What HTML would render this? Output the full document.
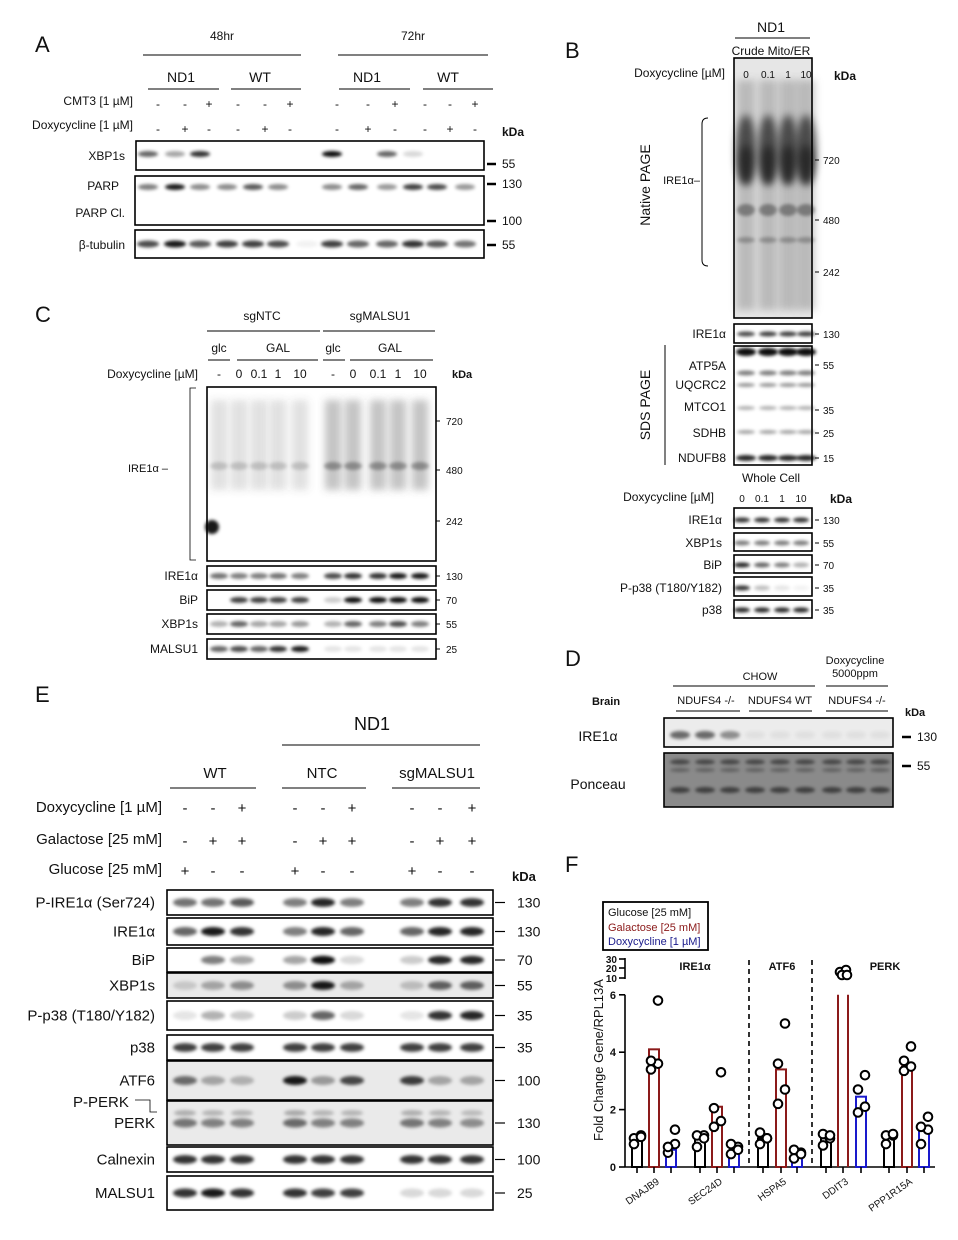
<!DOCTYPE html>
<html><head><meta charset="utf-8">
<style>
html,body{margin:0;padding:0;background:#fff}
svg{display:block;font-family:"Liberation Sans",Arial,sans-serif}
text{fill:#111}
</style></head>
<body>
<svg id="s" width="958" height="1240" viewBox="0 0 958 1240" xmlns="http://www.w3.org/2000/svg">
<defs>
<filter id="b" x="-50%" y="-100%" width="200%" height="300%"><feGaussianBlur stdDeviation="1.6"/></filter>
<filter id="b2" x="-50%" y="-50%" width="200%" height="200%"><feGaussianBlur stdDeviation="4"/></filter>
</defs>
<g id="bands"></g>
<g id="boxes" fill="none" stroke="#000" stroke-width="1.6"></g>
<g id="txt" font-size="12"></g>
</svg>
<script>
const NS="http://www.w3.org/2000/svg";
const S=document.getElementById('s'),B=document.getElementById('bands'),X=document.getElementById('boxes'),T=document.getElementById('txt');
function el(p,tag,a){const e=document.createElementNS(NS,tag);for(const k in a)e.setAttribute(k,a[k]);p.appendChild(e);return e;}
function t(x,y,s,o={}){const e=el(T,'text',Object.assign({x:x,y:y},o));e.textContent=s;return e;}
function r(x,y,w,h){el(X,'rect',{x:x,y:y,width:w,height:h});}
function ln(x1,y1,x2,y2,w=1,c='#000',d){const a={x1,y1,x2,y2,stroke:c,'stroke-width':w};if(d)a['stroke-dasharray']=d;el(T,'line',a);}
function band(x,y,w,h,o,f){if(o<=0)return;el(B,'ellipse',{cx:x,cy:y,rx:w/2,ry:h/2,fill:'#000','fill-opacity':o,filter:f||'url(#b)'});}
function bg(x,y,w,h,c){el(B,'rect',{x,y,width:w,height:h,fill:c});}
function row(lanes,y,w,h,ints){lanes.forEach((l,i)=>band(l,y,w,h,ints[i]));}
function mk(x,y,s,tick=true){if(tick)ln(x,y,x+9,y,2.5);t(x+15,y+4,s);}

// ===== Panel A =====
t(35,52,'A',{'font-size':22});
t(222,40,'48hr',{'text-anchor':'middle'});ln(143,55,301,55);
t(413,40,'72hr',{'text-anchor':'middle'});ln(338,55,488,55);
[['ND1',181,148,219],['WT',260,231,301],['ND1',367,339,410],['WT',448,423,493]].forEach(a=>{t(a[1],82,a[0],{'text-anchor':'middle','font-size':14});ln(a[2],89,a[3],89);});
t(133,105,'CMT3  [1 µM]',{'text-anchor':'end'});t(133,129,'Doxycycline  [1 µM]',{'text-anchor':'end'});
const LA=[158,185,209,238,265,290,337,368,395,425,450,475];
const cm=['-','-','+','-','-','+','-','-','+','-','-','+'],dx=['-','+','-','-','+','-','-','+','-','-','+','-'];
LA.forEach((x,i)=>{t(x,108,cm[i],{'text-anchor':'middle'});t(x,133,dx[i],{'text-anchor':'middle'});});
t(502,136,'kDa',{'font-weight':'bold'});
r(136,141,348,29);r(135,176,349,49);r(135,230,349,28);
const LA2=[148,175,200,227,253,278,307,332,358,387,413,437,465];
row(LA2,154,20,6,[.6,.35,.8,0,0,0,0,.95,0,.6,.15,0,0]);
row(LA2,187,20,6,[.5,.9,.45,.45,.65,.45,0,.45,.6,.4,.75,.7,.4]);
row(LA2,244,22,7,[.7,.9,.65,.75,.75,.7,.05,.75,.6,.6,.8,.65,.55]);
t(125,160,'XBP1s',{'text-anchor':'end'});t(119,190,'PARP',{'text-anchor':'end'});t(125,217,'PARP Cl.',{'text-anchor':'end'});t(125,249,'β-tubulin',{'text-anchor':'end'});
mk(487,164,'55');mk(487,184,'130');mk(487,221,'100');mk(487,245,'55');

// ===== Panel B =====
t(565,58,'B',{'font-size':22});
t(771,32,'ND1',{'text-anchor':'middle','font-size':14});ln(735,38,810,38);
t(771,55,'Crude Mito/ER',{'text-anchor':'middle'});
t(725,77,'Doxycycline [µM]',{'text-anchor':'end'});
const LB=[746,768,788,806];['0','0.1','1','10'].forEach((s,i)=>t(LB[i],78,s,{'text-anchor':'middle','font-size':10}));
t(834,80,'kDa',{'font-weight':'bold'});
bg(734,58,78,260,'#e6e6e6');
LB.forEach(x=>{el(B,'rect',{x:x-9,y:80,width:18,height:230,fill:'#666','fill-opacity':.35,filter:'url(#b2)'});band(x,150,20,70,.6,'url(#b2)');band(x,165,16,40,.45,'url(#b2)');band(x,210,18,12,.35);band(x,240,18,6,.25);});
r(734,58,78,260);
t(650,185,'Native PAGE',{'text-anchor':'middle','font-size':14,transform:'rotate(-90 650 185)'});
el(T,'path',{d:'M708 118 Q702 118 702 124 L702 260 Q702 266 708 266',fill:'none',stroke:'#000'});
t(700,184,'IRE1α–',{'text-anchor':'end','font-size':11});
[['720',160],['480',220],['242',272],['130',334],['55',365],['35',410],['25',433],['15',458]].forEach(a=>{ln(815,a[1],819,a[1]);t(823,a[1]+4,a[0],{'font-size':10});});
r(734,324,78,19);row(LB,334,18,5,[.7,.75,.75,.75]);
r(734,346,78,119);
row(LB,352,20,8,[.95,.95,.95,.95]);row(LB,373,18,5,[.5,.5,.5,.5]);row(LB,385,18,4,[.4,.4,.4,.4]);row(LB,408,18,4,[.3,.3,.3,.3]);row(LB,432,18,4,[.35,.35,.35,.35]);row(LB,458,20,6,[.85,.85,.85,.85]);
t(650,405,'SDS PAGE',{'text-anchor':'middle','font-size':14,transform:'rotate(-90 650 405)'});
ln(665,345,665,465);
[['IRE1α',334],['ATP5A',366],['UQCRC2',385],['MTCO1',407],['SDHB',433],['NDUFB8',458]].forEach(a=>t(726,a[1]+4,a[0],{'text-anchor':'end'}));
t(771,482,'Whole Cell',{'text-anchor':'middle'});
t(714,501,'Doxycycline [µM]',{'text-anchor':'end'});
const LB2=[742,762,782,801];['0','0.1','1','10'].forEach((s,i)=>t(LB2[i],502,s,{'text-anchor':'middle','font-size':10}));
t(830,503,'kDa',{'font-weight':'bold'});
[[508,519,'IRE1α','130',[.8,.8,.8,.8]],[533,542,'XBP1s','55',[.5,.5,.5,.5]],[555,564,'BiP','70',[.85,.6,.5,.3]],[577,587,'P-p38 (T180/Y182)','35',[.8,.25,.1,.05]],[600,609,'p38','35',[.85,.85,.85,.85]]].forEach(a=>{r(734,a[0],78,a[1]-a[0]+9);row(LB2,a[1]+1,16,5,a[4]);t(722,a[1]+5,a[2],{'text-anchor':'end'});ln(815,a[1]+1,819,a[1]+1);t(823,a[1]+5,a[3],{'font-size':10});});

// ===== Panel C =====
t(35,322,'C',{'font-size':22});
t(262,320,'sgNTC',{'text-anchor':'middle'});ln(207,331,320,331);
t(380,320,'sgMALSU1',{'text-anchor':'middle'});ln(323,331,435,331);
t(219,352,'glc',{'text-anchor':'middle'});ln(208,360,230,360);
t(278,352,'GAL',{'text-anchor':'middle'});ln(237,360,318,360);
t(333,352,'glc',{'text-anchor':'middle'});ln(323,360,345,360);
t(390,352,'GAL',{'text-anchor':'middle'});ln(350,360,433,360);
t(198,378,'Doxycycline [µM]',{'text-anchor':'end'});
const LC=[219,239,259,278,300,333,353,378,398,420];
['-','0','0.1','1','10','-','0','0.1','1','10'].forEach((s,i)=>t(LC[i],378,s,{'text-anchor':'middle'}));
t(452,378,'kDa',{'font-weight':'bold','font-size':11});
LC.forEach((x,i)=>{const o=i>=5?.35:.18;el(B,'rect',{x:x-8,y:400,width:16,height:90,fill:'#555','fill-opacity':o,filter:'url(#b2)'});band(x,466,18,8,o*.9);});
band(212,527,14,14,.9);
r(207,387,229,174);
el(T,'path',{d:'M196 388 L190 388 L190 560 L196 560',fill:'none',stroke:'#000','stroke-width':.8});
t(168,472,'IRE1α –',{'text-anchor':'end','font-size':11});
[['720',421],['480',470],['242',521]].forEach(a=>{ln(436,a[1],440,a[1]);t(446,a[1]+4,a[0],{'font-size':10});});
[[566,'IRE1α','130',[.55,.5,.5,.55,.5,.7,.8,.8,.9,.9]],[590,'BiP','70',[0,.75,.75,.75,.75,.2,.95,.95,.95,.95]],[614,'XBP1s','55',[.3,.6,.35,.35,.4,.3,.6,.5,.7,.5]],[639,'MALSU1','25',[.6,.7,.6,.8,.9,.1,.1,.1,.1,.1]]].forEach(a=>{r(207,a[0],229,20);row(LC,a[0]+10,18,6,a[3]);t(198,a[0]+14,a[1],{'text-anchor':'end'});ln(436,a[0]+10,440,a[0]+10);t(446,a[0]+14,a[2],{'font-size':10});});

// ===== Panel D =====
t(565,666,'D',{'font-size':22});
t(760,680,'CHOW',{'text-anchor':'middle','font-size':11});ln(673,686,815,686);
t(855,664,'Doxycycline',{'text-anchor':'middle','font-size':11});t(855,677,'5000ppm',{'text-anchor':'middle','font-size':11});ln(826,686,888,686);
t(606,705,'Brain',{'font-weight':'bold','font-size':11,'text-anchor':'middle'});
t(706,704,'NDUFS4 -/-',{'text-anchor':'middle','font-size':11});ln(676,711,740,711);
t(780,704,'NDUFS4 WT',{'text-anchor':'middle','font-size':11});ln(749,711,812,711);
t(857,704,'NDUFS4 -/-',{'text-anchor':'middle','font-size':11});ln(826,711,888,711);
t(905,716,'kDa',{'font-weight':'bold','font-size':11});
const LD=[680,705,730,755,780,805,832,856,880];
bg(664,718,229,29,'#ececec');
row(LD,735,20,8,[.55,.55,.4,.05,.05,.05,.05,.05,.05]);
bg(664,753,229,54,'#8a8a8a');
LD.forEach(x=>{band(x,762,20,5,.5);band(x,770,20,4,.3);band(x,790,20,6,.55);});
r(664,718,229,29);r(664,753,229,54);
t(598,741,'IRE1α',{'text-anchor':'middle','font-size':14});
t(598,789,'Ponceau',{'text-anchor':'middle','font-size':14});
mk(902,737,'130');mk(902,766,'55');

// ===== Panel E =====
t(35,702,'E',{'font-size':22});
t(372,730,'ND1',{'text-anchor':'middle','font-size':18});ln(282,745,480,745);
t(215,778,'WT',{'text-anchor':'middle','font-size':15});ln(170,788,256,788);
t(322,778,'NTC',{'text-anchor':'middle','font-size':15});ln(282,788,366,788);
t(437,778,'sgMALSU1',{'text-anchor':'middle','font-size':15});ln(392,788,480,788);
t(162,812,'Doxycycline [1 µM]',{'text-anchor':'end','font-size':15});
t(162,844,'Galactose [25 mM]',{'text-anchor':'end','font-size':15});
t(162,874,'Glucose [25 mM]',{'text-anchor':'end','font-size':15});
const LE=[185,213,242,295,323,352,412,440,472];
const ed=['-','-','+','-','-','+','-','-','+'],eg=['-','+','+','-','+','+','-','+','+'],eu=['+','-','-','+','-','-','+','-','-'];
LE.forEach((x,i)=>{t(x,813,ed[i],{'text-anchor':'middle','font-size':15});t(x,846,eg[i],{'text-anchor':'middle','font-size':15});t(x,876,eu[i],{'text-anchor':'middle','font-size':15});});
t(512,881,'kDa',{'font-weight':'bold','font-size':13});
const ER=[
 [890,25,'P-IRE1α (Ser724)','130',[.55,.55,.65,0,.5,.85,.5,.5,.8,.8]],
 [918,27,'IRE1α','130',[.6,.9,.8,0,.5,.85,.6,.6,.85,.85]],
 [948,24,'BiP','70',[0,.5,.35,0,.35,.95,.15,.2,.85,.85]],
 [973,25,'XBP1s','55',[.15,.3,.4,0,.4,.9,.3,.2,.6,.6]],
 [1001,29,'P-p38 (T180/Y182)','35',[.1,.3,.2,0,.2,.6,.15,.1,.8,.85]],
 [1035,25,'p38','35',[.75,.75,.75,0,.75,.75,.75,.75,.75,.75]],
 [1061,39,'ATF6','100',[.55,.3,.25,0,.9,.35,.7,.75,.3,.3]],
 [1101,44,'PERK','130',[.5,.45,.45,0,.55,.45,.45,.5,.45,.4]],
 [1147,25,'Calnexin','100',[.8,.8,.8,0,.8,.8,.8,.8,.8,.8]],
 [1176,34,'MALSU1','25',[.8,.9,.8,0,.8,.75,.75,.15,.15,.15]]];
ER.forEach(a=>{const y=a[0],h=a[1];if(a[2]=='ATF6'||a[2]=='PERK'||a[2]=='XBP1s')bg(167,y,326,h,'#eaeaea');
 const ints=a[4];const ints9=[ints[0],ints[1],ints[2],ints[4],ints[5],ints[6],ints[7],ints[8],ints[9]];
 row(LE,y+h/2,24,Math.min(h*0.35,9),ints9);
 if(a[2]=='PERK')row(LE,y+h/2-10,22,6,ints9.map(v=>v*.5));
 r(167,y,326,h);t(155,y+h/2+5,a[2],{'text-anchor':'end','font-size':15});
 ln(495,y+h/2,505,y+h/2,1.2);t(517,y+h/2+5,a[3],{'font-size':14});});
t(73,1107,'P-PERK',{'font-size':15});
el(T,'path',{d:'M135 1100 L150 1100 L150 1112 L157 1112',fill:'none',stroke:'#000','stroke-width':.8});

// ===== Panel F =====
t(565,872,'F',{'font-size':22});
const Y0=1167,U=28.7,AX=625;
const yv=v=>Y0-v*U;
el(T,'rect',{x:603,y:902,width:105,height:48,fill:'#fff',stroke:'#000','stroke-width':1.8});
t(608,916,'Glucose [25 mM]',{'font-size':11});
t(608,931,'Galactose [25 mM]',{'font-size':11,style:'fill:#8b1a1a'});
t(608,945,'Doxycycline [1 µM]',{'font-size':11,style:'fill:#1a1a8b'});
ln(AX,Y0,AX,yv(6),1.6);ln(AX,958,AX,979,1.6);
[[0,'0'],[2,'2'],[4,'4'],[6,'6']].forEach(a=>{ln(AX-6,yv(a[0]),AX,yv(a[0]),1.6);t(AX-9,yv(a[0])+4,a[1],{'text-anchor':'end','font-size':11,'font-weight':'bold'});});
[[959,'30'],[968,'20'],[978,'10']].forEach(a=>{ln(AX-6,a[0],AX,a[0],1.6);t(AX-8,a[0]+4,a[1],{'text-anchor':'end','font-size':10,'font-weight':'bold'});});
ln(AX,Y0,935,Y0,1.6);
t(603,1060,'Fold Change Gene/RPL13A',{'text-anchor':'middle','font-size':13,transform:'rotate(-90 603 1060)'});
ln(749,960,749,1167,1.6,'#000','5,4');ln(812,960,812,1167,1.6,'#000','5,4');
t(695,970,'IRE1α',{'text-anchor':'middle','font-size':11,'font-weight':'bold'});
t(782,970,'ATF6',{'text-anchor':'middle','font-size':11,'font-weight':'bold'});
t(885,970,'PERK',{'text-anchor':'middle','font-size':11,'font-weight':'bold'});
const cols=['#000','#8b1a1a','#1a1acc'];
const G=[['DNAJB9',[637,654,671],[1,4.1,.6],[[1,1.1,.8,1.05],[3.4,3.6,3.7,5.8],[.5,.8,.7,1.3]]],
['SEC24D',[700,717,734],[1,2.1,.55],[[.7,1.1,1.1,1],[1.4,1.6,2.05,3.3],[.45,.7,.8,.6]]],
['HSPA5',[763,781,797],[1,3.4,.35],[[.8,1,1.2,1],[2.2,2.7,3.6,5],[.3,.5,.6,.45]]],
['DDIT3',[826,843,861],[1,6,2.45],[[.75,1,1.15,1.1],[],[1.9,2.1,2.7,3.2]]],
['PPP1R15A',[889,907,924],[1,3.5,1.3],[[.8,1.1,1.1,1.15],[3.35,3.5,3.7,4.2],[.8,1.3,1.4,1.75]]]];
G.forEach(g=>{g[1].forEach((x,i)=>{const v=g[2][i];
 if(g[0]=='DDIT3'&&i==1){ln(x-5,yv(6),x-5,Y0,2,cols[1]);ln(x+5,yv(6),x+5,Y0,2,cols[1]);}
 else el(T,'rect',{x:x-5,y:yv(v),width:10,height:v*U,fill:'none',stroke:cols[i],'stroke-width':2});
 ln(x,Y0,x,Y0+6,1.6);
 g[3][i].forEach((p,k)=>el(T,'circle',{cx:x+(k%2?4:-3),cy:yv(p),r:4.3,fill:'#fff',stroke:'#000','stroke-width':2}));});
 t(g[1][1]+6,Y0+16,g[0],{'text-anchor':'end','font-size':10,transform:`rotate(-35 ${g[1][1]+6} ${Y0+16})`});});
[[840,972],[846,970],[842,975],[847,975]].forEach(p=>el(T,'circle',{cx:p[0],cy:p[1],r:4.3,fill:'#fff',stroke:'#000','stroke-width':2}));
</script>
</body></html>
